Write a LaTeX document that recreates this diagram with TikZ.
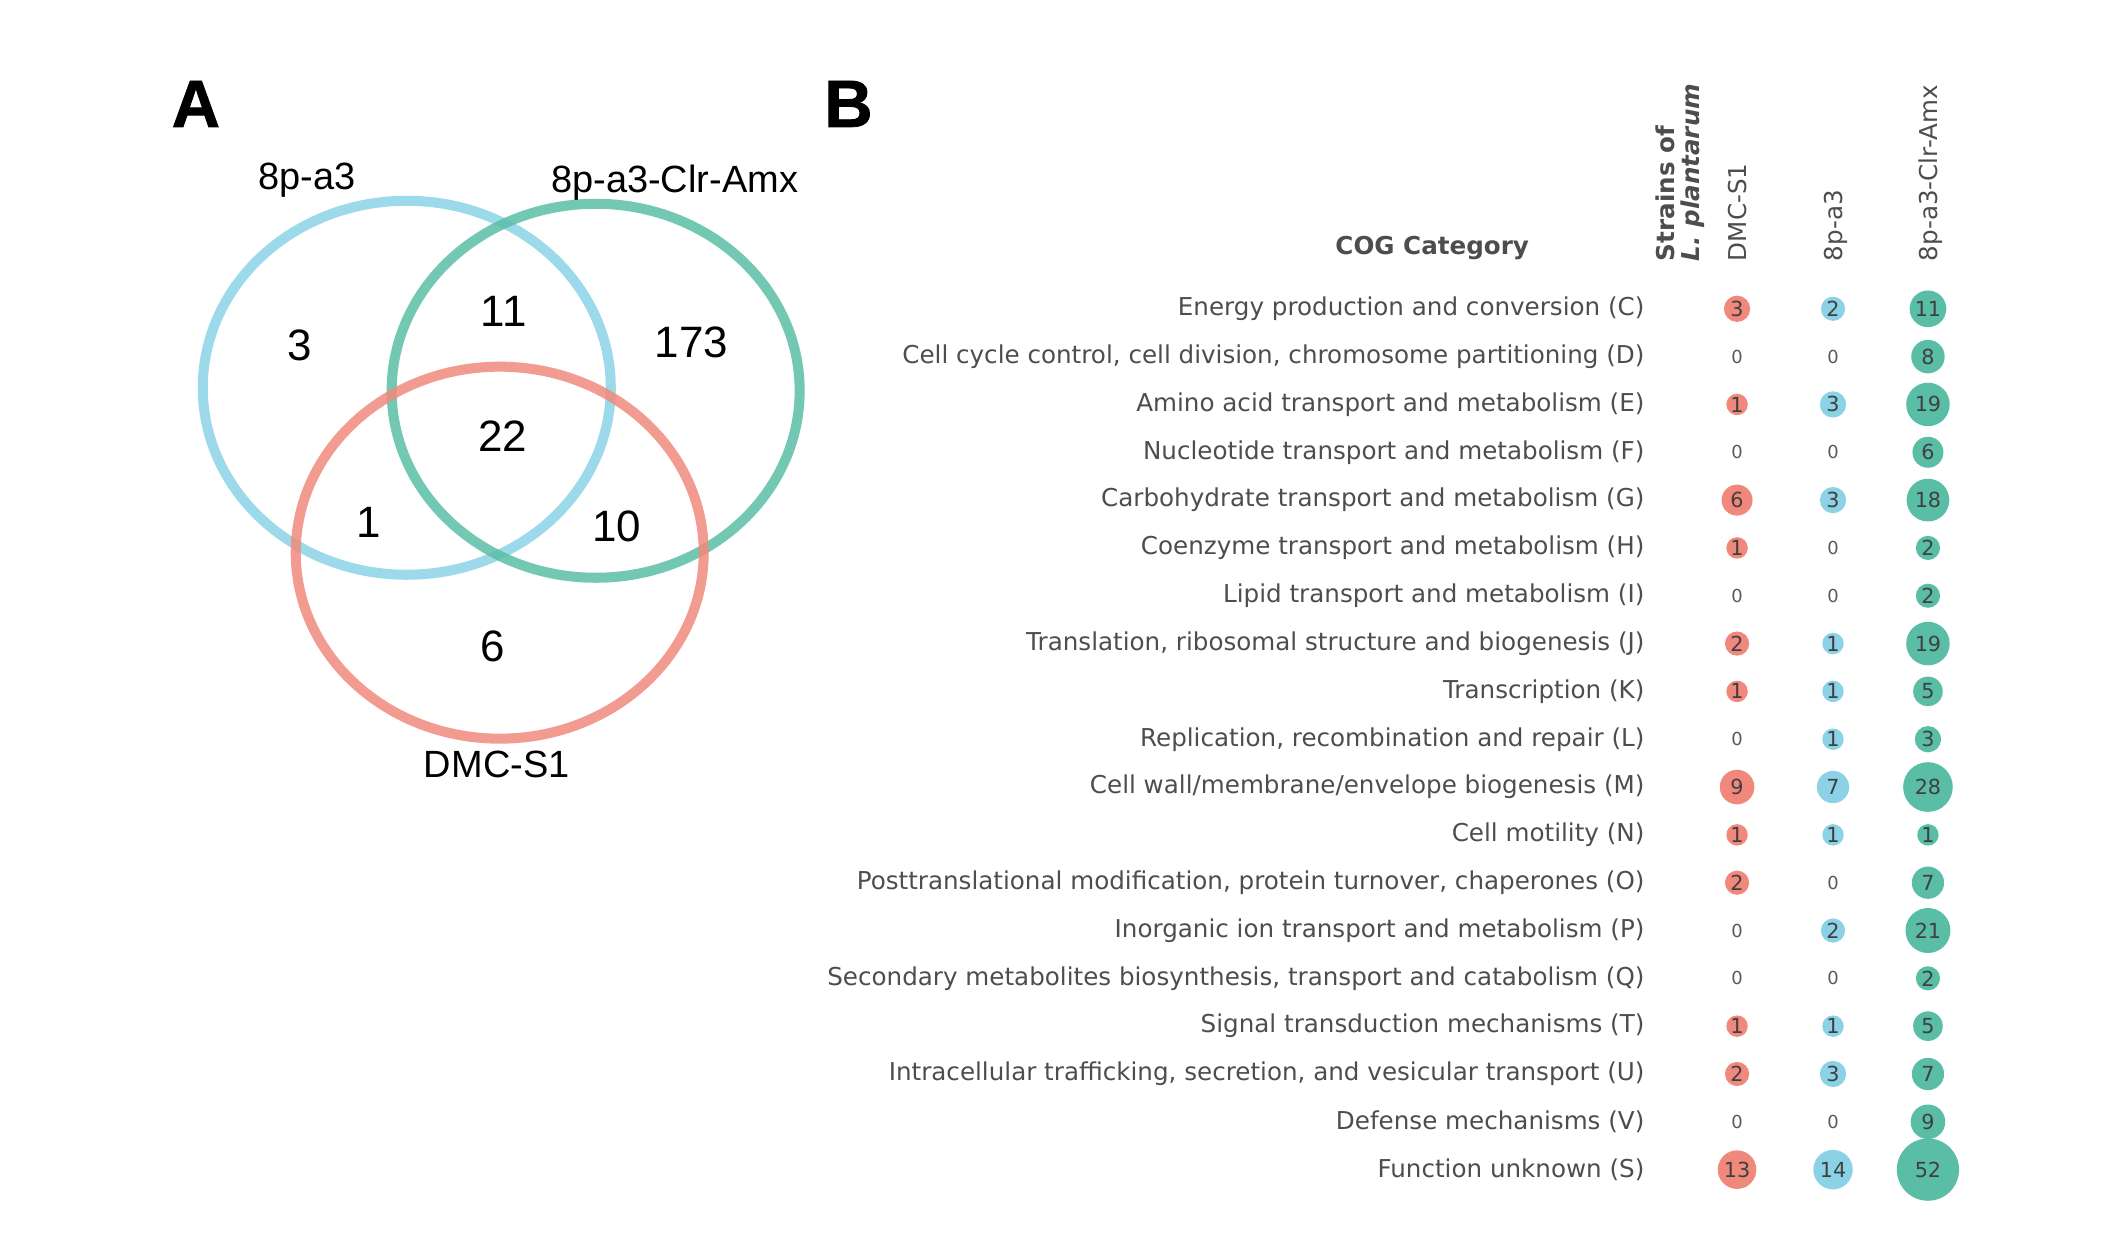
\documentclass[tikz,border=0pt]{standalone}
\usepackage{fontspec}
\setmainfont{DejaVu Sans}
\newfontfamily\vennfont{Liberation Sans}[BoldFeatures={FakeBold=1.2}]

\definecolor{dmcred}{RGB}{240,137,124}
\definecolor{pablue}{RGB}{139,210,230}
\definecolor{amxteal}{RGB}{90,190,166}
\definecolor{labelgray}{RGB}{77,77,77}

\tikzset{
  venn/.style={line width=2.85pt, draw opacity=0.85},
  vennnum/.style={font=\vennfont\fontsize{12.5}{14}\selectfont},
  vennlabel/.style={font=\vennfont\fontsize{10.8}{12}\selectfont},
  panel/.style={font=\vennfont\bfseries\fontsize{19}{21}\selectfont},
  coglabel/.style={anchor=east, inner sep=0pt, text=labelgray, font=\fontsize{7}{8}\selectfont},
  colhead/.style={rotate=90, anchor=mid west, inner sep=0pt, text=labelgray, font=\fontsize{7}{8}\selectfont},
  bubble/.style={circle, inner sep=0pt, text=black!75, font=\fontsize{5.9}{6}\selectfont},
  zero/.style={inner sep=0pt, text=black!65, font=\fontsize{5.1}{6}\selectfont}
}

\begin{document}
\begin{tikzpicture}
\def\lenscale{0.01}
\def\x#1{#1*\lenscale}
\def\y#1{12.54-#1*\lenscale}

\useasboundingbox (0,0) rectangle (21.10,12.54);

% panel A: venn
\draw [venn, pablue] (\x{407},\y{388}) ellipse [x radius=2.04, y radius=1.87];
\draw [venn, amxteal] (\x{596},\y{391}) ellipse [x radius=2.04, y radius=1.87];
\draw [venn, dmcred] (\x{500},\y{553}) ellipse [x radius=2.04, y radius=1.86];

\node [panel] (lblA) at (\x{196},\y{104}) {A};
\node [panel] (lblB) at (\x{849},\y{104}) {B};

\node [vennlabel] (setpa) at (\x{307},\y{180}) {8p-a3};
\node [vennlabel] (setamx) at (\x{675},\y{183}) {8p-a3-Clr-Amx};
\node [vennlabel] (setdmc) at (\x{497},\y{765}) {DMC-S1};

\node [vennnum] (onlypa) at (\x{300},\y{346}) {3};
\node [vennnum] (paamx) at (\x{504},\y{312}) {11};
\node [vennnum] (onlyamx) at (\x{692},\y{343}) {173};
\node [vennnum] (allthree) at (\x{503},\y{436}) {22};
\node [vennnum] (padmc) at (\x{369},\y{523}) {1};
\node [vennnum] (amxdmc) at (\x{617},\y{527}) {10};
\node [vennnum] (onlydmc) at (\x{493},\y{647}) {6};

% panel B: COG bubbles
\node [font=\bfseries\fontsize{7}{8}\selectfont, text=labelgray] (cogtitle) at (\x{1433},\y{248}) {COG Category};
\node [colhead, anchor=west, align=left, font=\bfseries\fontsize{7}{7.3}\selectfont] (strains) at (\x{1681},\y{262}) {Strains of\\\textit{L. plantarum}};
\node [colhead] (dmchead) at (\x{1738},\y{262}) {DMC-S1};
\node [colhead] (pahead) at (\x{1834},\y{262}) {8p-a3};
\node [colhead] (amxhead) at (\x{1929},\y{262}) {8p-a3-Clr-Amx};

\foreach [count=\i] \cog/\dmc/\pa/\amx in {
  {Energy production and conversion (C)}/3/2/11,
  {Cell cycle control, cell division, chromosome partitioning (D)}/0/0/8,
  {Amino acid transport and metabolism (E)}/1/3/19,
  {Nucleotide transport and metabolism (F)}/0/0/6,
  {Carbohydrate transport and metabolism (G)}/6/3/18,
  {Coenzyme transport and metabolism (H)}/1/0/2,
  {Lipid transport and metabolism (I)}/0/0/2,
  {Translation, ribosomal structure and biogenesis (J)}/2/1/19,
  {Transcription (K)}/1/1/5,
  {Replication, recombination and repair (L)}/0/1/3,
  {Cell wall/membrane/envelope biogenesis (M)}/9/7/28,
  {Cell motility (N)}/1/1/1,
  {Posttranslational modification, protein turnover, chaperones (O)}/2/0/7,
  {Inorganic ion transport and metabolism (P)}/0/2/21,
  {Secondary metabolites biosynthesis, transport and catabolism (Q)}/0/0/2,
  {Signal transduction mechanisms (T)}/1/1/5,
  {Intracellular trafficking, secretion, and vesicular transport (U)}/2/3/7,
  {Defense mechanisms (V)}/0/0/9,
  {Function unknown (S)}/13/14/52}
{
\pgfmathsetmacro\ry{309+(\i-1)*47.85}
\node [coglabel] (cog-\i) at (\x{1646},\y{\ry}) {\cog};
\foreach \v/\col/\clr/\nm in {\dmc/1738/dmcred/dmc, \pa/1834/pablue/pa, \amx/1929/amxteal/amx}
{
\ifnum\v=0
\node [zero] (\nm-\i) at (\x{\col},\y{\ry}) {0};
\else
\node [bubble, fill=\clr, minimum size={(14.9+6.57*sqrt(\v))*0.2845pt}] (\nm-\i) at (\x{\col},\y{\ry}) {\v};
\fi
}
}

\end{tikzpicture}
\end{document}
